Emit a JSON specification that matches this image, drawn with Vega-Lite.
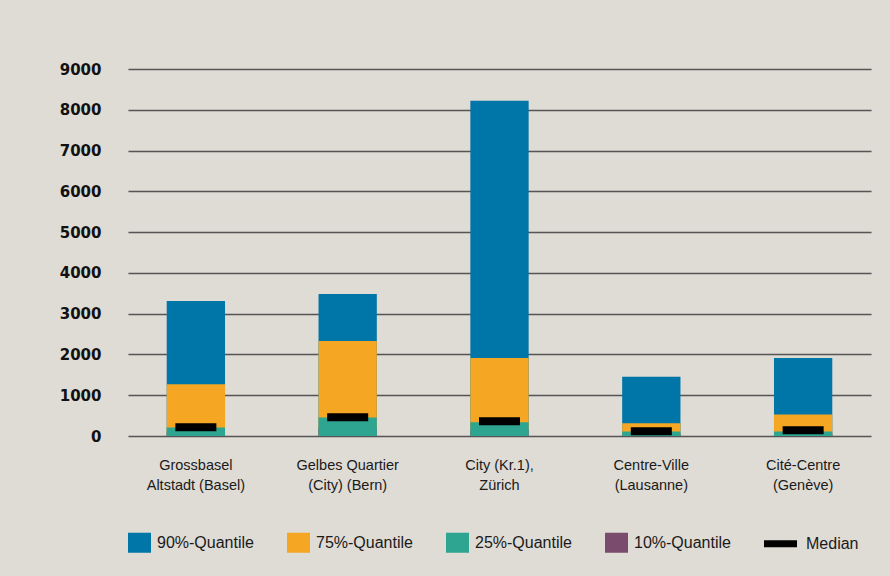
{
  "$schema": "https://vega.github.io/schema/vega-lite/v6.json",
  "autosize": "none",
  "width": 743,
  "height": 367,
  "padding": {"left": 128, "top": 69, "right": 19, "bottom": 140},
  "background": "#dfdbd5",
  "config": {
    "view": {"stroke": null},
    "font": "Liberation Sans"
  },
  "data": {
    "values": [
      {"region": "Grossbasel|Altstadt (Basel)", "q": "90%-Quantile", "value": 3310},
      {"region": "Grossbasel|Altstadt (Basel)", "q": "75%-Quantile", "value": 1270},
      {"region": "Grossbasel|Altstadt (Basel)", "q": "10%-Quantile", "value": 90},
      {"region": "Grossbasel|Altstadt (Basel)", "q": "25%-Quantile", "value": 210},
      {"region": "Grossbasel|Altstadt (Basel)", "q": "Median", "value": 215},
      {"region": "Gelbes Quartier|(City) (Bern)", "q": "90%-Quantile", "value": 3485},
      {"region": "Gelbes Quartier|(City) (Bern)", "q": "75%-Quantile", "value": 2330},
      {"region": "Gelbes Quartier|(City) (Bern)", "q": "10%-Quantile", "value": 200},
      {"region": "Gelbes Quartier|(City) (Bern)", "q": "25%-Quantile", "value": 455},
      {"region": "Gelbes Quartier|(City) (Bern)", "q": "Median", "value": 460},
      {"region": "City (Kr.1),|Zürich", "q": "90%-Quantile", "value": 8220},
      {"region": "City (Kr.1),|Zürich", "q": "75%-Quantile", "value": 1915},
      {"region": "City (Kr.1),|Zürich", "q": "10%-Quantile", "value": 150},
      {"region": "City (Kr.1),|Zürich", "q": "25%-Quantile", "value": 335},
      {"region": "City (Kr.1),|Zürich", "q": "Median", "value": 360},
      {"region": "Centre-Ville|(Lausanne)", "q": "90%-Quantile", "value": 1450},
      {"region": "Centre-Ville|(Lausanne)", "q": "75%-Quantile", "value": 310},
      {"region": "Centre-Ville|(Lausanne)", "q": "10%-Quantile", "value": 50},
      {"region": "Centre-Ville|(Lausanne)", "q": "25%-Quantile", "value": 110},
      {"region": "Centre-Ville|(Lausanne)", "q": "Median", "value": 115},
      {"region": "Cité-Centre|(Genève)", "q": "90%-Quantile", "value": 1910},
      {"region": "Cité-Centre|(Genève)", "q": "75%-Quantile", "value": 530},
      {"region": "Cité-Centre|(Genève)", "q": "10%-Quantile", "value": 50},
      {"region": "Cité-Centre|(Genève)", "q": "25%-Quantile", "value": 110},
      {"region": "Cité-Centre|(Genève)", "q": "Median", "value": 140}
    ]
  },
  "encoding": {
    "x": {
      "field": "region",
      "type": "nominal",
      "sort": null,
      "scale": {"paddingInner": 0.616, "paddingOuter": 0.255},
      "axis": {
        "title": null,
        "domain": false,
        "ticks": false,
        "labelAngle": 0,
        "labelExpr": "split(datum.label, '|')",
        "labelFont": "Liberation Sans",
        "labelFontSize": 14.5,
        "labelColor": "#1a1a1a",
        "labelPadding": 22,
        "labelLineHeight": 20
      }
    },
    "y": {
      "field": "value",
      "type": "quantitative",
      "stack": null,
      "scale": {"domain": [0, 9000], "nice": false},
      "axis": {
        "title": null,
        "values": [0, 1000, 2000, 3000, 4000, 5000, 6000, 7000, 8000, 9000],
        "format": "d",
        "domain": false,
        "ticks": false,
        "labelFont": "DejaVu Sans",
        "labelFontWeight": "bold",
        "labelFontSize": 15,
        "labelColor": "#111111",
        "labelPadding": 27,
        "gridColor": "#555555",
        "gridWidth": 1.6,
        "gridOpacity": 1
      }
    },
    "color": {
      "field": "q",
      "type": "nominal",
      "scale": {
        "domain": ["90%-Quantile", "75%-Quantile", "25%-Quantile", "10%-Quantile", "Median"],
        "range": ["#0076a8", "#f5a623", "#2ea591", "#7b4b6e", "#000000"]
      },
      "legend": {
        "title": null,
        "orient": "none",
        "legendX": 0,
        "legendY": 462,
        "direction": "horizontal",
        "columns": 5,
        "gridAlign": "all",
        "columnPadding": 33,
        "symbolSize": 529,
        "symbolStrokeWidth": 0,
        "symbolOpacity": 1,
        "labelFont": "Liberation Sans",
        "labelFontSize": 16,
        "labelColor": "#1a1a1a",
        "labelOffset": 6,
        "labelLimit": 200,
        "encode": {
          "symbols": {
            "update": {
              "shape": {"signal": "datum.value === 'Median' ? 'M-1,-0.3H1.87V0.3H-1Z' : 'M-1,-0.87H1V0.87H-1Z'"}
            }
          },
          "labels": {
            "update": {
              "dx": {"signal": "datum.value === 'Median' ? 13 : 0"}
            }
          }
        }
      }
    }
  },
  "layer": [
    {
      "transform": [{"filter": "datum.q !== 'Median'"}],
      "mark": {"type": "bar", "opacity": 1}
    },
    {
      "transform": [{"filter": "datum.q === 'Median'"}],
      "mark": {"type": "tick", "size": 41, "thickness": 8, "opacity": 1}
    }
  ]
}
